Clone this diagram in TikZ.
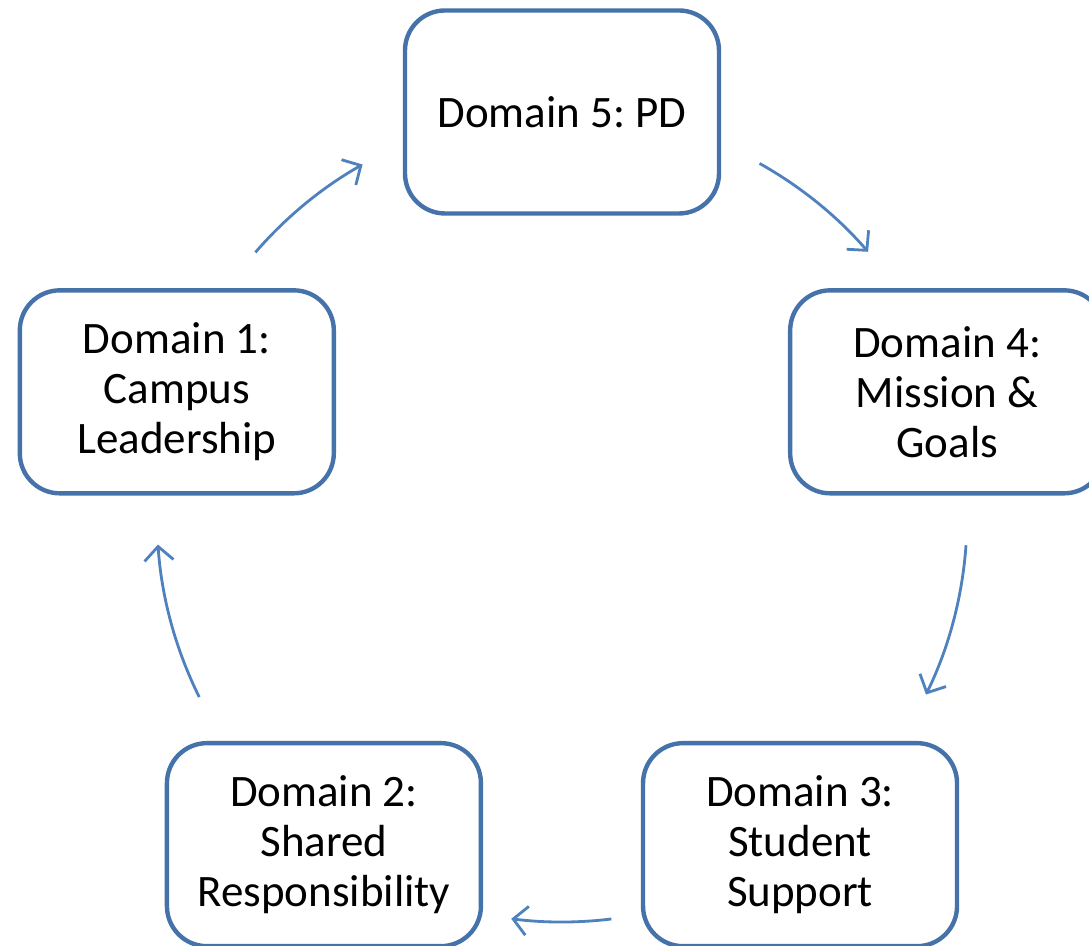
\documentclass[tikz,border=0pt]{standalone}
\usepackage{fontspec}
\setmainfont{Carlito}
\frenchspacing
\usetikzlibrary{arrows.meta}
\definecolor{cycleborder}{RGB}{70, 114, 170}
\definecolor{cyclearrow}{RGB}{79, 129, 189}
\tikzset{
  domainbox/.style={draw=cycleborder, fill=white, line width=2.5pt, rounded corners=0.8cm, align=center,
    minimum width=6.28cm, minimum height=4.06cm, font=\fontsize{25.6}{28.5}\selectfont},
  arr/.style={-{Straight Barb[length=2.8mm, width=5.8mm]}, line width=1.6pt, cyclearrow}
}

\begin{document}
\begin{tikzpicture}
            \def\r{8.1}
            \useasboundingbox (-11.24,-8.58) rectangle (10.54,10.34);
            \coordinate (c) at (0,0);
            \node[domainbox] (d5) at (90:\r) {Domain 5: PD};
            \node[domainbox] (d4) at (18:\r) {Domain 4:\\Mission \&\\Goals};
            \node[domainbox] (d3) at (-54:\r) {Domain 3:\\Student\\Support};
            \node[domainbox] (d2) at (-126:\r) {Domain 2:\\Shared\\Responsibility};
            \node[domainbox] (d1) at (162:\r) {Domain 1:\\Campus\\Leadership};
            \draw[arr] (c) ++(139.2:\r) arc[start angle=139.2, end angle=119.5, radius=\r];
            \draw[arr] (c) ++(60.8:\r) arc[start angle=60.8, end angle=40.9, radius=\r];
            \draw[arr] (c) ++(-4:\r) arc[start angle=-4, end angle=-26, radius=\r];
            \draw[arr] (c) ++(-83:\r) arc[start angle=-83, end angle=-97.2, radius=\r];
            \draw[arr] (c) ++(-153.6:\r) arc[start angle=-153.6, end angle=-176.1, radius=\r];
        \end{tikzpicture}
\end{document}
